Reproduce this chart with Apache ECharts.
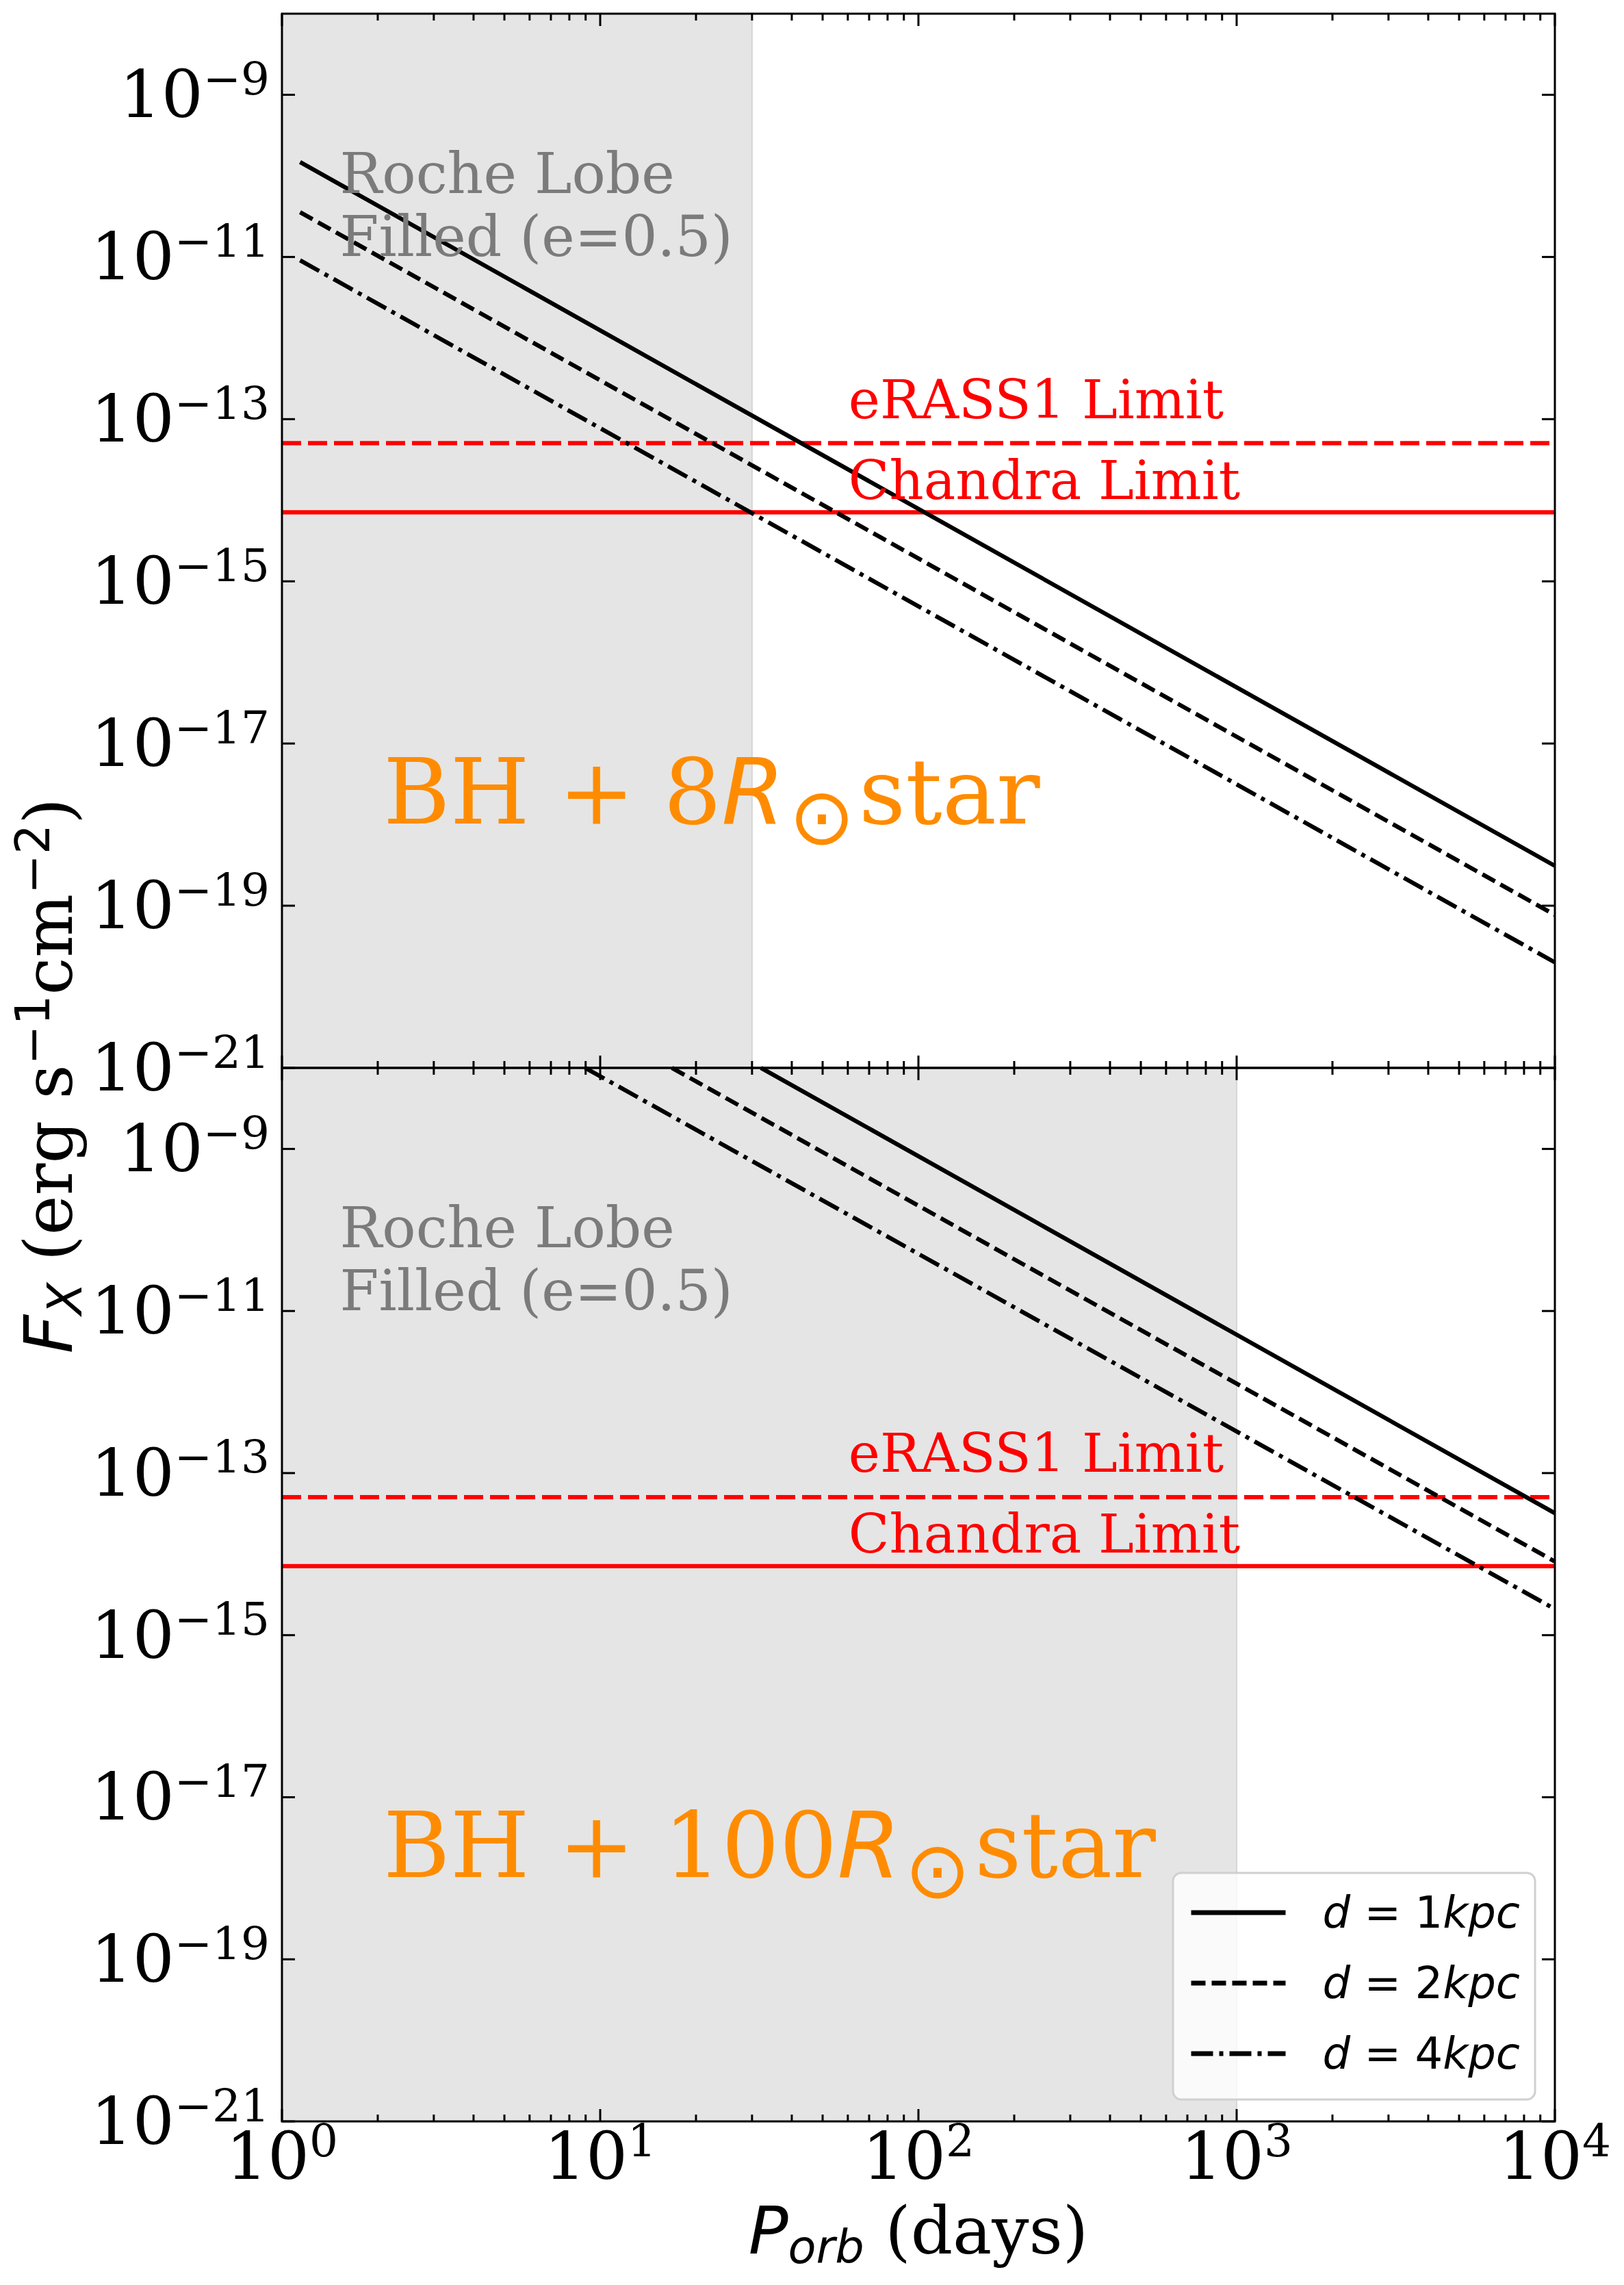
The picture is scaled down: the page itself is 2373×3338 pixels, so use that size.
<!DOCTYPE html>
<html><head><meta charset="utf-8">
<script src="https://cdn.jsdelivr.net/npm/echarts@6/dist/echarts.min.js"></script>
<style>html,body{margin:0;padding:0;background:#fff}#c{width:2373px;height:3338px}</style>
</head><body><div id="c"></div>
<script>
// ---------------- data ----------------
const periodRange = [1, 10000];          // P_orb (days)
const fluxRange = [1e-21, 1e-8];         // F_X
const distanceNames = ['d = 1kpc', 'd = 2kpc', 'd = 4kpc'];

// BH + 8 Rsun star (top panel)
const top1kpc = [[1.14, 1.48e-10], [10000, 3.1e-19]];
const top2kpc = [[1.14, 3.56e-11], [10000, 7.7e-20]];
const top4kpc = [[1.14, 9.1e-12], [10000, 2.0e-20]];
// BH + 100 Rsun star (bottom panel)
const bot1kpc = [[32.0, 1e-8], [10000, 3.2e-14]];
const bot2kpc = [[16.8, 1e-8], [10000, 8.1e-15]];
const bot4kpc = [[8.97, 1e-8], [10000, 2.1e-15]];

const eRASS1Limit = 5.05e-14;
const chandraLimit = 7.1e-15;
const rocheTop = [1, 30];
const rocheBottom = [1, 1000];

const yTickExps = [-21, -19, -17, -15, -13, -11, -9];
const xTickExps = [0, 1, 2, 3, 4];

// ---------------- styles / layout ----------------
const SERIF = 'DejaVu Serif', SANS = 'DejaVu Sans';
const LW = 6.2;
const lineTypes = ['solid', [21, 9], [32, 9, 6, 9]];

function limitData(v) { return [[periodRange[0], v], [periodRange[1], v]]; }

function panel(gi, lines, roche) {
  const s = [];
  s.push({
    type: 'line', name: 'eRASS1 Limit', xAxisIndex: gi, yAxisIndex: gi,
    data: limitData(eRASS1Limit), symbol: 'none', silent: true,
    lineStyle: { color: '#ff0000', width: LW, type: [28, 10] },
    markArea: {
      silent: true,
      itemStyle: { color: '#e5e5e5', borderColor: '#d6d6d6', borderWidth: 2 },
      data: [[{ xAxis: roche[0] }, { xAxis: roche[1] }]]
    }
  });
  s.push({
    type: 'line', name: 'Chandra Limit', xAxisIndex: gi, yAxisIndex: gi,
    data: limitData(chandraLimit), symbol: 'none', silent: true,
    lineStyle: { color: '#ff0000', width: LW, type: 'solid' }
  });
  lines.forEach((d, i) => s.push({
    type: 'line', name: distanceNames[i], xAxisIndex: gi, yAxisIndex: gi,
    data: d, symbol: 'none', silent: true, color: '#000',
    lineStyle: { color: '#000', width: LW, type: lineTypes[i] }
  }));
  return s;
}

const supRich = {
  b: { fontFamily: SERIF, fontSize: 96, lineHeight: 112, color: '#000' },
  s: { fontFamily: SERIF, fontSize: 66, lineHeight: 50, verticalAlign: 'top', color: '#000' }
};
function expLabel(e) { return '{b|10}{s|' + (e < 0 ? '\u2212' + (-e) : e) + '}'; }

const hiddenAxis = { axisLine: { show: false }, axisTick: { show: false }, axisLabel: { show: false }, splitLine: { show: false } };

const option = {
  animation: false,
  backgroundColor: '#ffffff',
  grid: [
    { left: 412, top: 20, width: 1860, height: 1540, outerBoundsMode: 'none' },
    { left: 412, top: 1560, width: 1860, height: 1539, outerBoundsMode: 'none' }
  ],
  xAxis: [
    Object.assign({ type: 'log', logBase: 10, gridIndex: 0, min: periodRange[0], max: periodRange[1] }, hiddenAxis),
    Object.assign({ type: 'log', logBase: 10, gridIndex: 1, min: periodRange[0], max: periodRange[1] }, hiddenAxis, {
      axisLabel: {
        show: true, margin: -5, showMinLabel: true, showMaxLabel: true,
        formatter: v => expLabel(Math.round(Math.log10(v))),
        rich: supRich
      }
    })
  ],
  yAxis: [
    Object.assign({ type: 'log', logBase: 10, gridIndex: 0, min: fluxRange[0], max: fluxRange[1] }, hiddenAxis),
    Object.assign({ type: 'log', logBase: 10, gridIndex: 1, min: fluxRange[0], max: fluxRange[1] }, hiddenAxis)
  ],
  legend: {
    data: distanceNames,
    orient: 'vertical', left: 1714, top: 2736,
    itemWidth: 138, itemHeight: 30, itemGap: 33,
    padding: [23, 22, 32, 23],
    backgroundColor: 'rgba(255,255,255,0.8)', borderColor: '#d0d0d0', borderWidth: 3, borderRadius: 12,
    selectedMode: false,
    itemStyle: { color: 'rgba(0,0,0,0)', borderColor: 'rgba(0,0,0,0)', borderWidth: 0, opacity: 0 },
    lineStyle: { width: 7 },
    textStyle: {
      fontFamily: SANS, fontSize: 64, lineHeight: 70, color: '#000',
      rich: {
        g: { width: 49, fontSize: 64, fontFamily: SANS },
        i: { fontFamily: SANS, fontStyle: 'italic', fontSize: 64, lineHeight: 70 },
        n: { fontFamily: SANS, fontSize: 64, lineHeight: 70 }
      }
    },
    formatter: name => {
      const num = name.replace(/[^0-9]/g, '');
      return '{g| }{i|d}{n| = ' + num + '}{i|kpc}';
    }
  },
  series: [].concat(
    panel(0, [top1kpc, top2kpc, top4kpc], rocheTop),
    panel(1, [bot1kpc, bot2kpc, bot4kpc], rocheBottom)
  )
};

const chart = echarts.init(document.getElementById('c'), null, { renderer: 'svg', width: 2373, height: 3338 });
chart.setOption(option);

// ---------------- frame, ticks, labels, annotations (placed through the axes' scales) ----------------
function P(gi, x, y) { return chart.convertToPixel({ gridIndex: gi }, [x, y]); }
const G = [];
function line(x1, y1, x2, y2, w) {
  G.push({ type: 'line', z: 100, silent: true, shape: { x1, y1, x2, y2 }, style: { stroke: '#000', lineWidth: w || 3 } });
}
const xMinor = [];
for (let d = 0; d < 4; d++) for (let m = 2; m <= 9; m++) xMinor.push(m * Math.pow(10, d));

[0, 1].forEach(gi => {
  const tl = P(gi, periodRange[0], fluxRange[1]);
  const br = P(gi, periodRange[1], fluxRange[0]);
  G.push({ type: 'rect', z: 101, silent: true,
    shape: { x: tl[0], y: tl[1], width: br[0] - tl[0], height: br[1] - tl[1] },
    style: { fill: 'none', stroke: '#000', lineWidth: 3 } });
  xTickExps.forEach(e => {
    const x = P(gi, Math.pow(10, e), fluxRange[0])[0];
    line(x, br[1], x, br[1] - 18); line(x, tl[1], x, tl[1] + 18);
  });
  xMinor.forEach(v => {
    const x = P(gi, v, fluxRange[0])[0];
    line(x, br[1], x, br[1] - 10); line(x, tl[1], x, tl[1] + 10);
  });
  yTickExps.forEach(e => {
    const y = P(gi, periodRange[0], Math.pow(10, e))[1];
    line(tl[0], y, tl[0] + 19, y); line(br[0], y, br[0] - 19, y);
    G.push({ type: 'text', z: 100, silent: true, x: tl[0] - 18, y: y,
      style: { text: expLabel(e), align: 'right', verticalAlign: 'middle', fill: '#000', rich: supRich } });
  });
});

// annotations: [grid, period, flux] anchors (left edge, vertical middle)
const annotations = [
  { grid: 0, at: [1.52, 4.34e-11], text: 'Roche Lobe\nFilled (e=0.5)', kind: 'roche' },
  { grid: 1, at: [1.52, 4.34e-11], text: 'Roche Lobe\nFilled (e=0.5)', kind: 'roche' },
  { grid: 0, at: [60.3, 1.74e-13], text: 'eRASS1 Limit', kind: 'limit' },
  { grid: 0, at: [60.3, 1.76e-14], text: 'Chandra Limit', kind: 'limit' },
  { grid: 1, at: [60.3, 1.74e-13], text: 'eRASS1 Limit', kind: 'limit' },
  { grid: 1, at: [60.3, 1.76e-14], text: 'Chandra Limit', kind: 'limit' },
  { grid: 0, at: [2.08, 2.54e-18], text: '{n|BH + 8}{i|R}{o|\u2299}{n|star}', kind: 'star' },
  { grid: 1, at: [2.08, 2.54e-18], text: '{n|BH + 100}{i|R}{o|\u2299}{n|star}', kind: 'star' }
];
const annStyles = {
  roche: { fontFamily: SERIF, fontSize: 82, lineHeight: 92, fill: '#7b7b7b' },
  limit: { fontFamily: SERIF, fontSize: 78, lineHeight: 90, fill: '#ff0000' },
  star: { fill: '#ff8c00', rich: {
    n: { fontFamily: SERIF, fontSize: 133, lineHeight: 187 },
    i: { fontFamily: SANS, fontStyle: 'italic', fontSize: 133, lineHeight: 187 },
    o: { fontFamily: SANS, fontSize: 115, lineHeight: 60, verticalAlign: 'bottom', padding: [0, 6, 0, 6] }
  } }
};
annotations.forEach(a => {
  const p = P(a.grid, a.at[0], a.at[1]);
  G.push({ type: 'text', z: 90, silent: true, x: p[0], y: p[1],
    style: Object.assign({ text: a.text, align: 'left', verticalAlign: 'middle' }, annStyles[a.kind]) });
});

// axis titles
const g0 = P(0, periodRange[0], fluxRange[1]);
const g1 = P(1, periodRange[1], fluxRange[0]);
G.push({ type: 'text', z: 100, silent: true, x: (g0[0] + g1[0]) / 2, y: g1[1] + 160,
  style: { text: '{i|P}{u|orb}{n| (days)}', align: 'center', verticalAlign: 'middle', fill: '#000', rich: {
    i: { fontFamily: SANS, fontStyle: 'italic', fontSize: 96, lineHeight: 115 },
    u: { fontFamily: SANS, fontStyle: 'italic', fontSize: 67, lineHeight: 48, verticalAlign: 'bottom' },
    n: { fontFamily: SERIF, fontSize: 96, lineHeight: 115 }
  } } });
G.push({ type: 'text', z: 100, silent: true, x: 71, y: (g0[1] + g1[1]) / 2 + 12, rotation: Math.PI / 2,
  style: { text: '{i|F}{u|X}{n| (erg s}{p|\u22121}{n|cm}{p|\u22122}{n|)}', align: 'center', verticalAlign: 'middle', fill: '#000', rich: {
    i: { fontFamily: SANS, fontStyle: 'italic', fontSize: 98, lineHeight: 116 },
    u: { fontFamily: SANS, fontStyle: 'italic', fontSize: 69, lineHeight: 48, verticalAlign: 'bottom' },
    n: { fontFamily: SERIF, fontSize: 98, lineHeight: 116 },
    p: { fontFamily: SANS, fontSize: 69, lineHeight: 50, verticalAlign: 'top' }
  } } });

chart.setOption({ graphic: { elements: G } });
</script>
</body></html>
